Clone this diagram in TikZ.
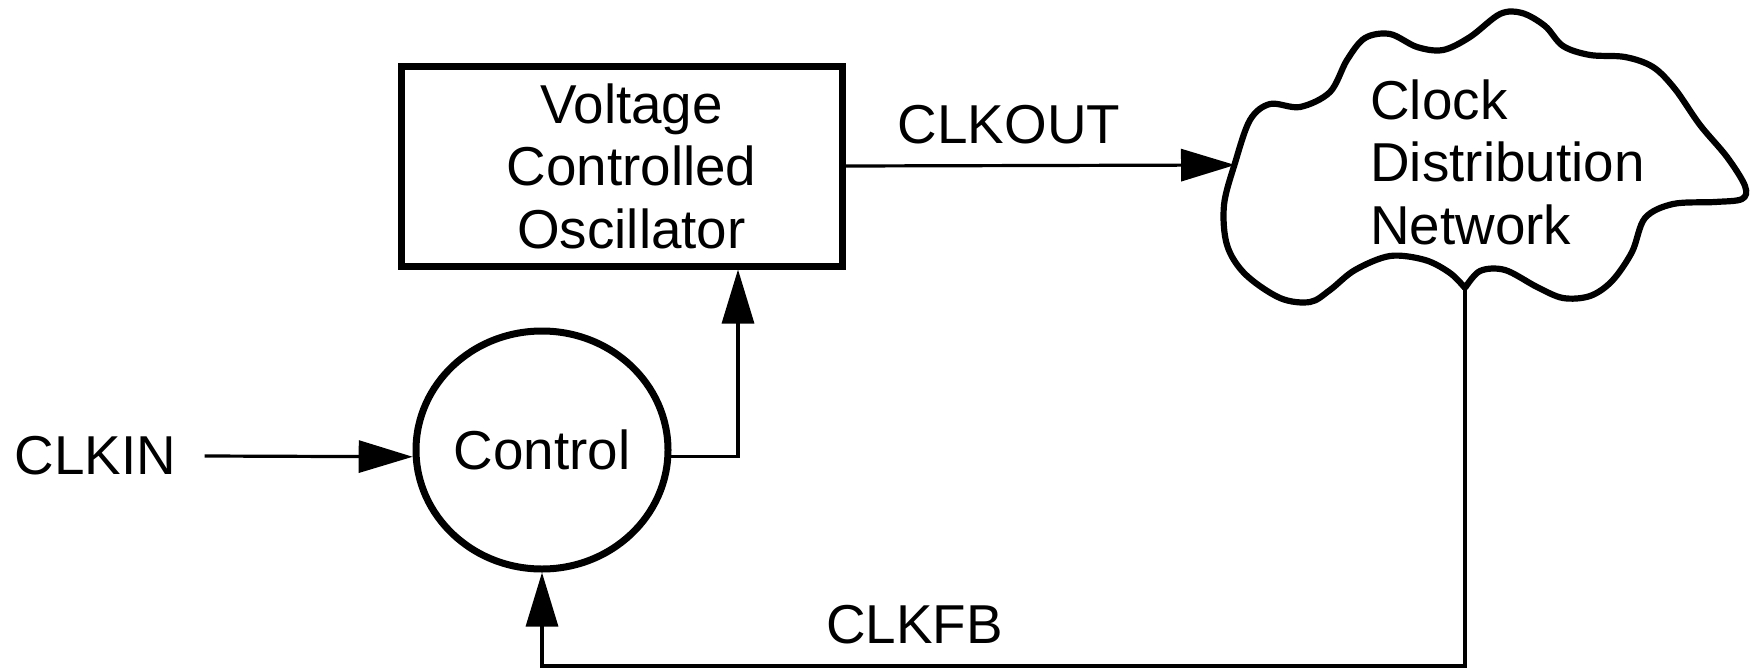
\documentclass[tikz,border=0pt]{standalone}
\usepackage{fontspec}
\setmainfont{Liberation Sans}
\usetikzlibrary{arrows.meta,shapes.geometric,calc}
\begin{document}
\begin{tikzpicture}[x=0.5pt,y=-0.5pt,
  lbl/.style={font=\fontsize{27.4}{31.25}\selectfont, inner sep=0pt},
  blk/.style={draw, line width=3.5pt, inner sep=0pt},
  conn/.style={line width=1.6pt},
  arr/.style={conn, -{Triangle[length=27pt,width=16pt]}}]
\useasboundingbox (0,0) rectangle (1751,669);
% VCO box
\node[blk, lbl, rectangle, minimum width=220.5pt, minimum height=100pt, align=center]
  (vco) at (621.5,166) {\hspace*{10pt}Voltage\\\hspace*{10pt}Controlled\\\hspace*{10pt}Oscillator};
% Control ellipse
\node[blk, lbl, ellipse, minimum width=126pt, minimum height=119pt]
  (ctrl) at (542,450) {Control};
% Cloud
\draw[line width=3.1pt, line join=round]
  plot[smooth, tension=0.55] coordinates {
  (1465,288) (1480,271) (1505,270) (1537,287) (1563,298) (1590,296)
  (1612,281) (1632,252) (1645,218) (1673,204) (1715,202) (1742,199)
  (1745,186) (1727,157) (1700,125) (1675,89) (1653,67)
  (1625,57) (1590,55) (1563,46) (1545,26) (1522,13) (1500,14)
  (1470,37) (1443,50) (1417,47) (1390,34) (1365,38)
  (1347,60) (1330,92) (1300,107) (1270,104) (1250,120)
  (1235,163) (1224,205) (1227,245) (1245,274) (1280,298)
  (1310,302) (1330,290) (1355,270) (1390,256) (1425,260)
  (1450,273) (1465,288)};
\node[lbl, align=left, anchor=west] (cdn) at (1370,162) {Clock\\Distribution\\Network};
\coordinate (cloudin) at (1235,165);
\coordinate (cloudout) at (1465,288);
\coordinate (fbc) at (1465,666);
% Labels
\node[lbl, inner xsep=14pt] (clkin) at (95.5,456) {CLKIN};
\node[lbl] (clkout) at (1009,125) {CLKOUT};
\node[lbl] (clkfb) at (914.5,625) {CLKFB};
% Connectors
\draw[arr] (clkin.east) -- (ctrl.183);
\draw[arr] (ctrl.-3) -| ([xshift=58.25pt]vco.south);
\draw[arr] (vco.east) -- (cloudin);
\draw[arr] (cloudout) -- (fbc) -| (ctrl.south);
\end{tikzpicture}
\end{document}
